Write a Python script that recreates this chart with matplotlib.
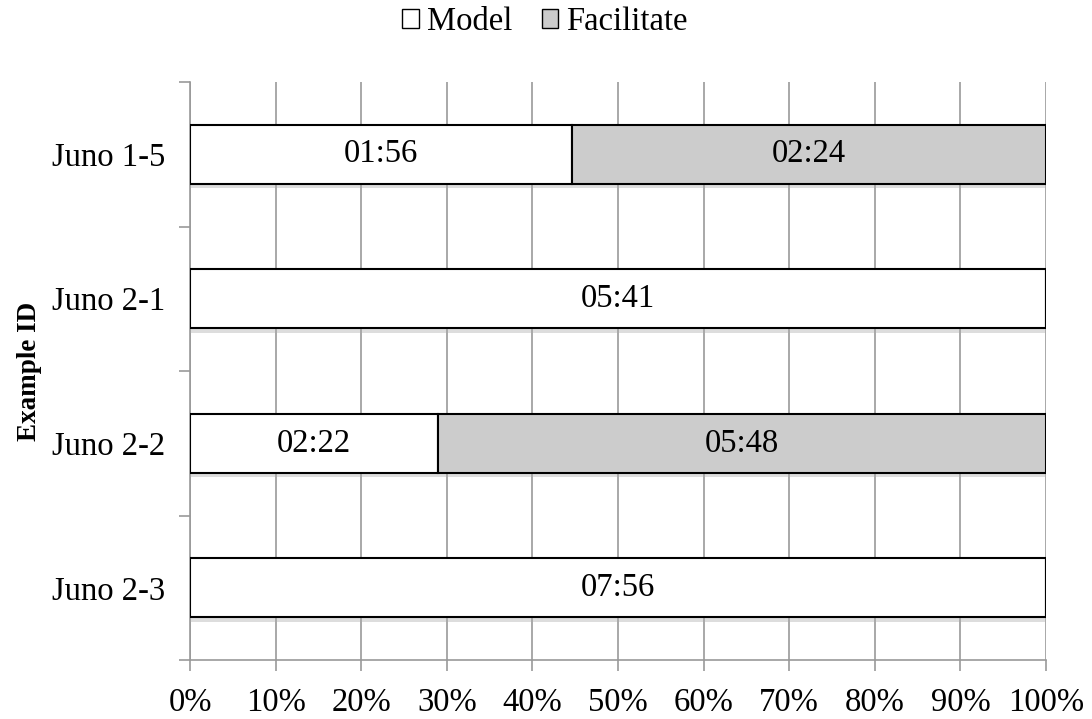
import numpy as np
import matplotlib.pyplot as plt
import matplotlib.patheffects as pe
from matplotlib.patches import Patch

plt.rcParams['font.family'] = ['Liberation Serif', 'DejaVu Serif']

examples = ['Juno 1-5', 'Juno 2-1', 'Juno 2-2', 'Juno 2-3']
model_time = ['01:56', '05:41', '02:22', '07:56']
facilitate_time = ['02:24', '', '05:48', '']


def to_sec(s):
    if not s:
        return 0
    m, sec = s.split(':')
    return int(m) * 60 + int(sec)


model_sec = np.array([to_sec(s) for s in model_time], dtype=float)
fac_sec = np.array([to_sec(s) for s in facilitate_time], dtype=float)
total = model_sec + fac_sec
model_pct = model_sec / total * 100
fac_pct = fac_sec / total * 100

fs = 23.5

fig = plt.figure(figsize=(10.92, 7.19), dpi=100)
ax = fig.add_axes([190 / 1092, 59 / 719, 856 / 1092, 578 / 719])

y = np.arange(len(examples))[::-1]
shadow = [pe.SimplePatchShadow(offset=(0, -3), shadow_rgbFace='#aaaaaa', alpha=0.4), pe.Normal()]
b1 = ax.barh(y, model_pct, height=0.41, color='white', edgecolor='black', linewidth=1.5, zorder=3)
b2 = ax.barh(y, fac_pct, left=model_pct, height=0.41, color='#cccccc', edgecolor='black', linewidth=1.5, zorder=3)
for b in list(b1) + list(b2):
    b.set_path_effects(shadow)

for i in range(len(examples)):
    ax.text(model_pct[i] / 2, y[i], model_time[i], ha='center', va='center', fontsize=fs, zorder=4)
    if fac_pct[i] > 0:
        ax.text(model_pct[i] + fac_pct[i] / 2, y[i], facilitate_time[i], ha='center', va='center', fontsize=fs, zorder=4)

ax.set_xlim(0, 100)
ax.set_ylim(-0.5, 3.5)
ax.set_xticks(np.arange(0, 101, 10))
ax.set_xticklabels([f'{v}%' for v in range(0, 101, 10)], fontsize=fs)
ax.set_yticks(y)
ax.set_yticklabels(examples, fontsize=fs)
ax.set_yticks(np.arange(-0.5, 3.6, 1), minor=True)
ax.tick_params(axis='y', which='major', length=0, pad=18)
ax.tick_params(axis='y', which='minor', length=8, color='#999999', width=1.2)
ax.tick_params(axis='x', length=8, color='#999999', width=1.2, pad=12)

ax.grid(axis='x', color='#999999', linewidth=1.2, zorder=0)
for s in ['top', 'right']:
    ax.spines[s].set_visible(False)
for s in ['left', 'bottom']:
    ax.spines[s].set_color('#999999')
    ax.spines[s].set_linewidth(1.2)

fig.text(29 / 1092, 1 - 371 / 719, 'Example ID', rotation=90, ha='center', va='center',
         fontsize=19.5, fontweight='bold')

handles = [Patch(facecolor='white', edgecolor='black', label='Model'),
           Patch(facecolor='#cccccc', edgecolor='black', label='Facilitate')]
fig.legend(handles=handles, loc='center', bbox_to_anchor=(545 / 1092, 1 - 22 / 719), ncol=2, frameon=False,
           fontsize=fs, handlelength=0.5, handleheight=0.5, handletextpad=0.25, columnspacing=0.9)

fig.savefig('out.png', dpi=100)
